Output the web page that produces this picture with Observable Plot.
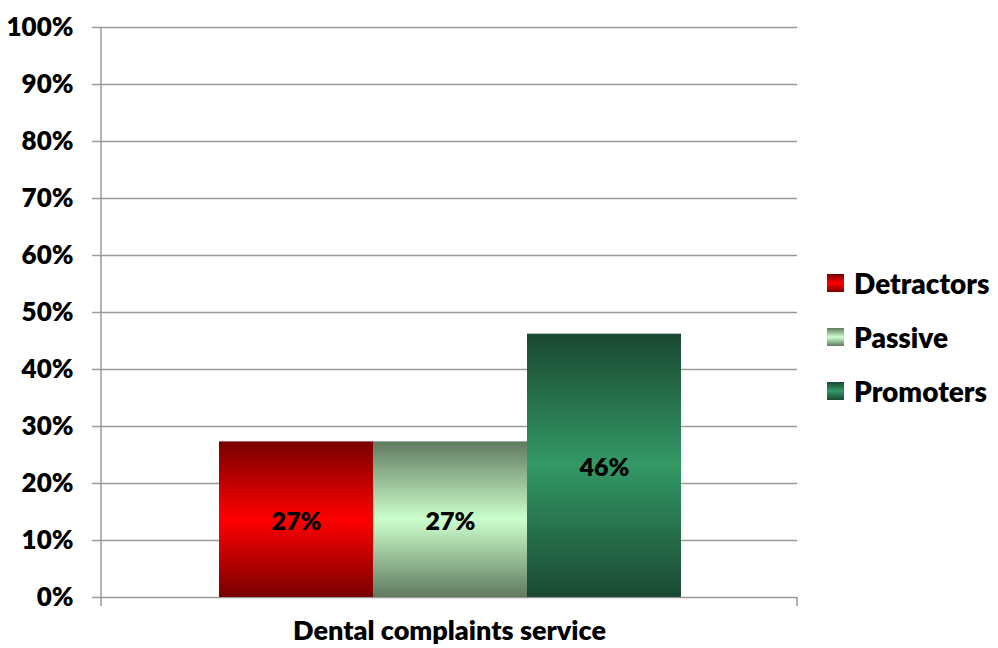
<!DOCTYPE html>
<html>
<head>
<meta charset="utf-8">
<script src="https://cdn.jsdelivr.net/npm/d3@7"></script>
<script src="https://cdn.jsdelivr.net/npm/@observablehq/plot@0.6"></script>
<style>
  html, body { margin: 0; padding: 0; background: #fff; }
  #wrap { position: relative; width: 998px; height: 648px; overflow: hidden; font-family: Lato, "Open Sans", sans-serif; }
  #legend { position: absolute; left: 827px; top: 256px; }
  .item { display: flex; align-items: center; height: 54px; font-size: 28px; font-weight: 800; color: #000; }
  .sw { width: 17px; height: 18px; margin-right: 10px; }
</style>
</head>
<body>
<div id="wrap"></div>
<script>
const groupLabel = ["Dental complaints service"];
const series = ["Detractors", "Passive", "Promoters"];
const values = [0.273, 0.273, 0.462];
const yTicks = [0, 0.1, 0.2, 0.3, 0.4, 0.5, 0.6, 0.7, 0.8, 0.9, 1.0];
const gradStops = [
  ["#780000", "#ff0000", "#780000"],
  ["#607a60", "#ccffcc", "#607a60"],
  ["#1a4832", "#339966", "#1a4832"]
];

const data = series.map((s, i) => ({series: s, value: values[i], grad: `url(#g${i})`}));

const FONT = "Lato, 'Open Sans', sans-serif";
const GRID = "#9a9a9a";
const WEIGHT = 800;

function defs() {
  const d = d3.create("svg:defs");
  gradStops.forEach((st, i) => {
    const g = d.append("linearGradient").attr("id", `g${i}`).attr("x1", 0).attr("y1", 0).attr("x2", 0).attr("y2", 1);
    g.append("stop").attr("offset", "0%").attr("stop-color", st[0]);
    g.append("stop").attr("offset", "50%").attr("stop-color", st[1]);
    g.append("stop").attr("offset", "100%").attr("stop-color", st[2]);
  });
  return d.node();
}

function axisLines(index, scales, values, dim) {
  const g = d3.create("svg:g").attr("stroke", GRID).attr("stroke-width", 1.5);
  const bottom = dim.height - dim.marginBottom;
  g.append("line").attr("x1", dim.marginLeft).attr("x2", dim.marginLeft)
    .attr("y1", dim.marginTop).attr("y2", bottom + 9);
  g.append("line").attr("x1", dim.width - dim.marginRight).attr("x2", dim.width - dim.marginRight)
    .attr("y1", bottom).attr("y2", bottom + 9);
  return g.node();
}

const chart = Plot.plot({
  width: 998,
  height: 648,
  marginLeft: 101,
  marginRight: 201,
  marginTop: 27,
  marginBottom: 51,
  style: {fontFamily: FONT, background: "#fff"},
  x: {type: "band", domain: series, padding: 0, insetLeft: 117, insetRight: 115, axis: null},
  y: {domain: [0, 1], axis: null},
  color: {type: "identity"},
  marks: [
    defs,
    Plot.gridY(yTicks, {stroke: GRID, strokeOpacity: 1, strokeWidth: 1.5}),
    Plot.axisY(yTicks, {
      label: null,
      tickFormat: d3.format(".0%"), tickSize: 9, tickPadding: 19,
      stroke: GRID, strokeWidth: 1.5, fontSize: 26, fontWeight: WEIGHT, fill: "#000"
    }),
    Plot.barY(data, {x: "series", y: "value", fill: "grad"}),
    Plot.text(data, {
      x: "series", y: d => d.value / 2, text: d => d3.format(".0%")(d.value),
      fontSize: 25, fontWeight: WEIGHT, fill: "#000", dy: 2
    }),
    axisLines,
    Plot.text(groupLabel, {
      text: d => d, frameAnchor: "bottom", dy: 42,
      fontSize: 27, fontWeight: WEIGHT, fill: "#000"
    })
  ]
});

const wrap = document.getElementById("wrap");
wrap.appendChild(chart);

const legend = document.createElement("div");
legend.id = "legend";
series.forEach((s, i) => {
  const it = document.createElement("div");
  it.className = "item";
  const sw = document.createElement("div");
  sw.className = "sw";
  const st = gradStops[i];
  sw.style.background = `linear-gradient(to bottom, ${st[0]}, ${st[1]} 50%, ${st[2]})`;
  const lab = document.createElement("span");
  lab.textContent = s;
  it.appendChild(sw);
  it.appendChild(lab);
  legend.appendChild(it);
});
wrap.appendChild(legend);
</script>
</body>
</html>
